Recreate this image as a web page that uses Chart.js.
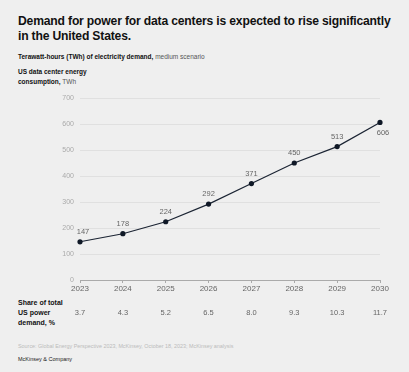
<!DOCTYPE html>
<html>
<head>
<meta charset="utf-8">
<script src="https://cdn.jsdelivr.net/npm/chart.js@4"></script>
<style>
  html, body { margin: 0; padding: 0; }
  body {
    width: 409px; height: 372px; background: #efefef; position: relative; overflow: hidden;
    font-family: "Liberation Sans", Arial, sans-serif; color: #111;
  }
  .abs { position: absolute; left: 18px; white-space: nowrap; }
  #title { top: 13px; font-size: 13px; font-weight: bold; line-height: 15px; letter-spacing: -0.2px;
    transform: scaleX(0.935); transform-origin: left top; }
  #subtitle { top: 53px; font-size: 6.5px; }
  #axis-title { top: 67px; font-size: 6.5px; line-height: 10px; }
  #share-label { top: 298px; font-size: 7px; line-height: 10px; font-weight: bold; }
  #source { top: 343px; font-size: 5.4px; color: #bbb; }
  #brand { top: 356px; font-size: 5.5px; color: #222; }
  .n { font-weight: normal; color: #555; }
  #chart-wrap { position: absolute; left: 0; top: 0; width: 409px; height: 372px; }
</style>
</head>
<body>
<div id="title" class="abs">Demand for power for data centers is expected to rise significantly<br>in the United States.</div>
<div id="subtitle" class="abs"><b>Terawatt-hours (TWh) of electricity demand,</b> <span class="n">medium scenario</span></div>
<div id="axis-title" class="abs"><b>US data center energy<br>consumption,</b> <span class="n">TWh</span></div>
<div id="share-label" class="abs">Share of total<br>US power<br>demand, %</div>
<div id="source" class="abs">Source: Global Energy Perspective 2023, McKinsey, October 18, 2023; McKinsey analysis</div>
<div id="brand" class="abs">McKinsey &amp; Company</div>
<div id="chart-wrap"><canvas id="chart"></canvas></div>
<script>
const years = ['2023', '2024', '2025', '2026', '2027', '2028', '2029', '2030'];
const demandTWh = [147, 178, 224, 292, 371, 450, 513, 606];
const sharePct = ['3.7', '4.3', '5.2', '6.5', '8.0', '9.3', '10.3', '11.7'];
const yTicks = [0, 100, 200, 300, 400, 500, 600, 700];

// value labels above each point, last one below
const pointLabels = {
  id: 'pointLabels',
  afterDatasetsDraw(chart) {
    const ctx = chart.ctx;
    const meta = chart.getDatasetMeta(0);
    ctx.save();
    ctx.font = '7.5px "Liberation Sans", Arial, sans-serif';
    ctx.fillStyle = '#666';
    ctx.textAlign = 'center';
    ctx.textBaseline = 'middle';
    meta.data.forEach((pt, i) => {
      const last = i === meta.data.length - 1;
      const dx = i === 0 ? 3 : (last ? 3 : 0);
      const dy = last ? 10 : -10;
      ctx.fillText(String(demandTWh[i]), pt.x + dx, pt.y + dy);
    });
    ctx.restore();
  }
};

// share-of-demand row under the x axis
const shareRow = {
  id: 'shareRow',
  afterDraw(chart) {
    const ctx = chart.ctx;
    const x = chart.scales.x;
    ctx.save();
    ctx.font = '7.5px "Liberation Sans", Arial, sans-serif';
    ctx.fillStyle = '#666';
    ctx.textAlign = 'center';
    ctx.textBaseline = 'middle';
    sharePct.forEach((v, i) => {
      ctx.fillText(v, x.getPixelForValue(i), 313);
    });
    ctx.restore();
  }
};

new Chart(document.getElementById('chart'), {
  type: 'line',
  data: {
    labels: years,
    datasets: [{
      data: demandTWh,
      borderColor: '#1b2433',
      borderWidth: 1.2,
      backgroundColor: '#0f1826',
      pointRadius: 2.6,
      pointBorderWidth: 0,
      tension: 0
    }]
  },
  options: {
    responsive: true,
    maintainAspectRatio: false,
    animation: false,
    layout: { padding: { left: 0, right: 29, top: 98, bottom: 72 } },
    plugins: { legend: { display: false }, tooltip: { enabled: false } },
    scales: {
      x: {
        offset: false,
        afterFit: s => { s.height = 20; },
        grid: { drawOnChartArea: false, drawTicks: true, tickLength: 3, color: '#aaa' },
        border: { display: true, color: '#aaa', width: 1 },
        ticks: {
          font: { size: 8, family: '"Liberation Sans", Arial, sans-serif' },
          color: '#666', padding: 1, maxRotation: 0
        }
      },
      y: {
        min: 0, max: 700,
        afterFit: s => { s.width = 80; },
        afterBuildTicks: s => { s.ticks = yTicks.map(v => ({ value: v })); },
        grid: { color: '#e0e0e0', lineWidth: 1, drawTicks: false },
        border: { display: false },
        ticks: {
          font: { size: 7, family: '"Liberation Sans", Arial, sans-serif' },
          color: '#aaa', padding: 6
        }
      }
    }
  },
  plugins: [pointLabels, shareRow]
});
</script>
</body>
</html>
